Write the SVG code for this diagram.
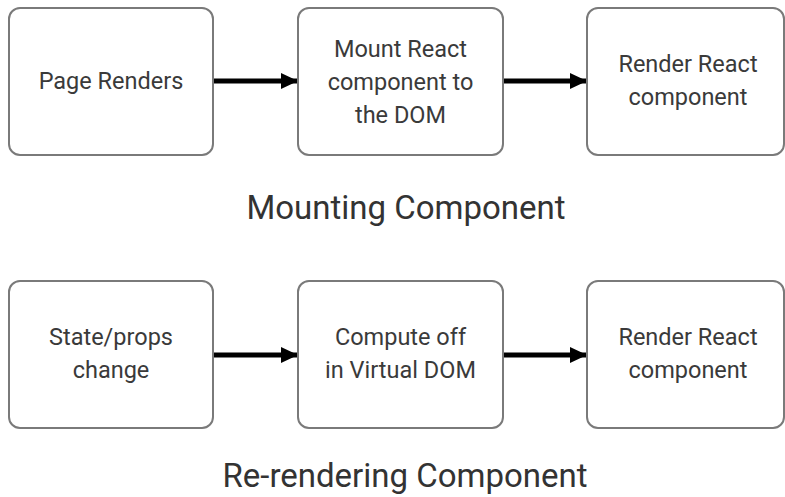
<svg xmlns="http://www.w3.org/2000/svg" width="785" height="497" viewBox="0 0 785 497">
<style>
.box{fill:#fff;stroke:#7a7a7a;stroke-width:2}
.lbl{font-family:Roboto,"Liberation Sans",sans-serif;font-size:23.5px;fill:#3a3a3a;text-anchor:middle}
.ttl{font-family:Roboto,"Liberation Sans",sans-serif;font-size:33px;fill:#333;text-anchor:middle}
.conn{stroke:#000;stroke-width:5;fill:none;marker-end:url(#ah)}
</style>
<defs>
<marker id="ah" markerUnits="userSpaceOnUse" markerWidth="18" markerHeight="18" refX="16" refY="9" orient="auto" viewBox="0 0 18 18">
<path d="M0,1 L17,9 L0,17 Z" fill="#000"/>
</marker>
</defs>
<rect width="785" height="497" fill="#fff"/>
<g id="connectors">
<line class="conn" x1="213" y1="81" x2="297" y2="81"/>
<line class="conn" x1="503" y1="81" x2="586" y2="81"/>
<line class="conn" x1="213" y1="355" x2="297" y2="355"/>
<line class="conn" x1="503" y1="355" x2="586" y2="355"/>
</g>
<g id="n1">
<rect class="box" x="9" y="8" width="204" height="147" rx="11"/>
<text class="lbl" x="111" y="89">Page Renders</text>
</g>
<g id="n2">
<rect class="box" x="298" y="8" width="205" height="147" rx="11"/>
<text class="lbl" x="400.5" y="57">Mount React</text>
<text class="lbl" x="400.5" y="90">component to</text>
<text class="lbl" x="400.5" y="123">the DOM</text>
</g>
<g id="n3">
<rect class="box" x="587" y="8" width="197" height="147" rx="11"/>
<text class="lbl" x="688" y="72">Render React</text>
<text class="lbl" x="688" y="105">component</text>
</g>
<g id="t1">
<text class="ttl" x="406" y="219">Mounting Component</text>
</g>
<g id="n4">
<rect class="box" x="9" y="281" width="204" height="147" rx="11"/>
<text class="lbl" x="111" y="345">State/props</text>
<text class="lbl" x="111" y="378">change</text>
</g>
<g id="n5">
<rect class="box" x="298" y="281" width="205" height="147" rx="11"/>
<text class="lbl" x="400.5" y="345">Compute off</text>
<text class="lbl" x="400.5" y="378">in Virtual DOM</text>
</g>
<g id="n6">
<rect class="box" x="587" y="281" width="197" height="147" rx="11"/>
<text class="lbl" x="688" y="345">Render React</text>
<text class="lbl" x="688" y="378">component</text>
</g>
<g id="t2">
<text class="ttl" x="405" y="487">Re-rendering Component</text>
</g>
</svg>
